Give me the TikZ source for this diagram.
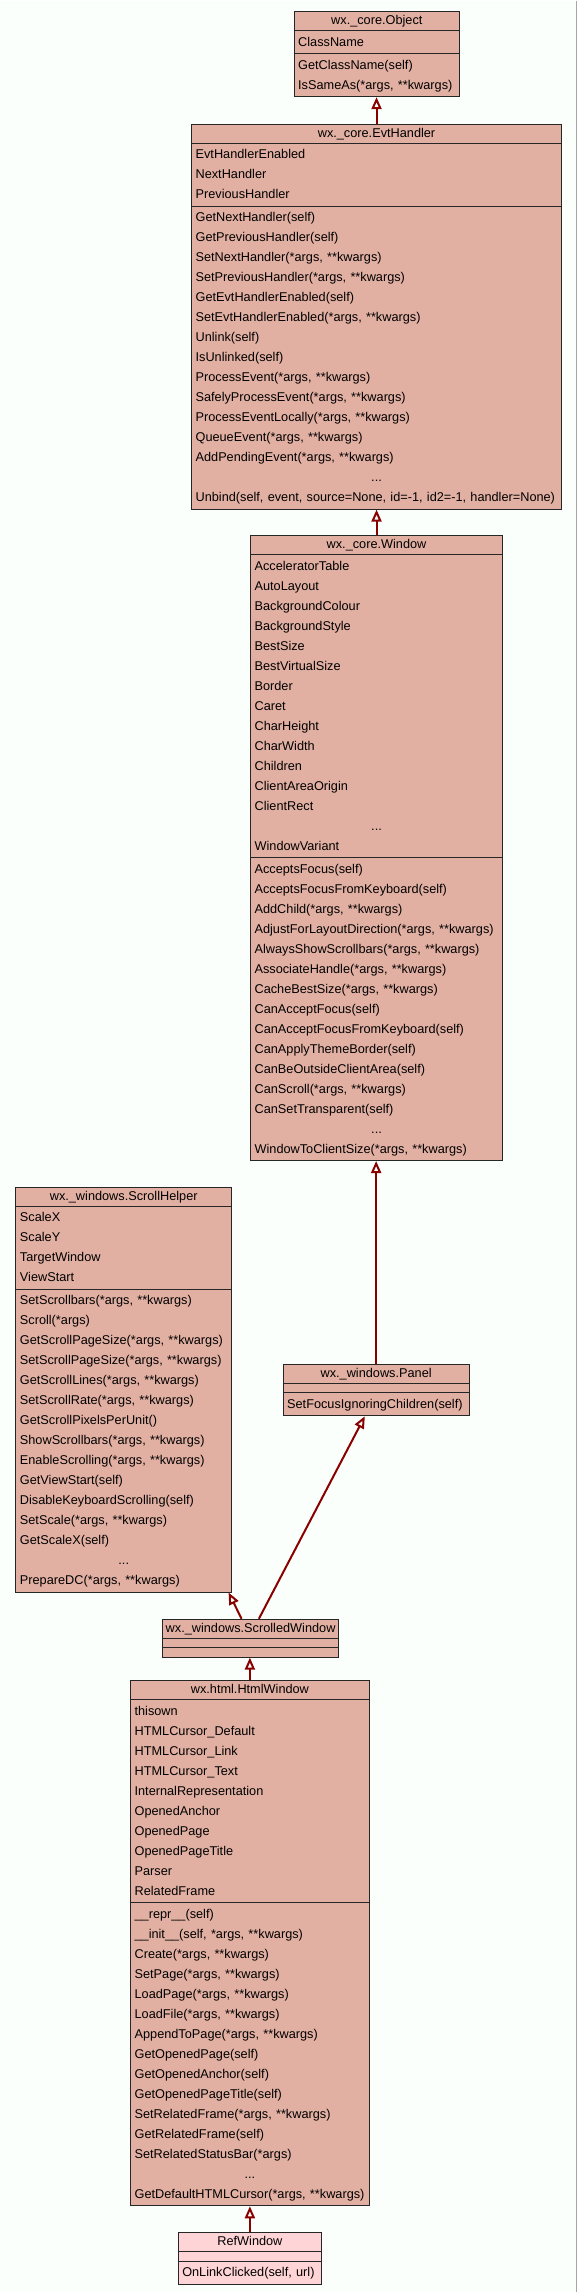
\documentclass[tikz,border=0pt]{standalone}
\usepackage{fontspec}
\setmainfont{Liberation Sans}
\usetikzlibrary{shapes.multipart,arrows.meta}

\definecolor{bgcol}{HTML}{FBFFFB}
\definecolor{clsfill}{HTML}{E2B0A2}
\definecolor{reffill}{HTML}{FFD4D6}
\definecolor{edgecol}{HTML}{880000}

\newcommand{\clshead}[1]{\hbox to\linewidth{\hss\rule[-3.5pt]{0pt}{12pt}#1\hss}}
\newcommand{\ent}[1]{\ifvmode\noindent\fi\hbox{\strut#1}\par}
\newcommand{\gap}{\ifvmode\noindent\fi\hbox to\linewidth{\hss\strut...\hss}\par}
\newcommand{\noent}{\ifvmode\noindent\fi\rule{0pt}{4.8pt}\par}

\tikzset{
  cls/.style={rectangle split, rectangle split parts=3, draw=black!85,
    line width=0.75pt, fill=clsfill, inner xsep=3pt, inner ysep=0.75pt,
    anchor=north, align=left, font=\fontsize{9.55pt}{15pt}\selectfont},
  inh/.style={draw=edgecol, line width=1.5pt,
    -{Triangle[width=7.5pt,length=9pt,fill=bgcol]}}
}

\begin{document}
\begin{tikzpicture}[x=0.75pt,y=-0.75pt]
\fill[bgcol] (0,0) rectangle (577,2292);
\draw[black!35,line width=0.75pt] (576.5,0) -- (576.5,2292);

\node[cls,text width=118pt] (obj) at (377,10.7) {\clshead{wx.\_core.Object}
\nodepart{two}\ent{ClassName}
\nodepart{three}\ent{GetClassName(self)}\ent{IsSameAs(*args, **kwargs)}};

\node[cls,text width=271.5pt] (evt) at (376.7,123.3) {\clshead{wx.\_core.EvtHandler}
\nodepart{two}\ent{EvtHandlerEnabled}\ent{NextHandler}\ent{PreviousHandler}
\nodepart{three}\ent{GetNextHandler(self)}\ent{GetPreviousHandler(self)}%
\ent{SetNextHandler(*args, **kwargs)}\ent{SetPreviousHandler(*args, **kwargs)}%
\ent{GetEvtHandlerEnabled(self)}\ent{SetEvtHandlerEnabled(*args, **kwargs)}%
\ent{Unlink(self)}\ent{IsUnlinked(self)}\ent{ProcessEvent(*args, **kwargs)}%
\ent{SafelyProcessEvent(*args, **kwargs)}\ent{ProcessEventLocally(*args, **kwargs)}%
\ent{QueueEvent(*args, **kwargs)}\ent{AddPendingEvent(*args, **kwargs)}\gap
\ent{Unbind(self, event, source=None, id=-1, id2=-1, handler=None)}};

\node[cls,text width=183pt] (win) at (376.7,535) {\clshead{wx.\_core.Window}
\nodepart{two}\ent{AcceleratorTable}\ent{AutoLayout}\ent{BackgroundColour}%
\ent{BackgroundStyle}\ent{BestSize}\ent{BestVirtualSize}\ent{Border}\ent{Caret}%
\ent{CharHeight}\ent{CharWidth}\ent{Children}\ent{ClientAreaOrigin}\ent{ClientRect}\gap
\ent{WindowVariant}
\nodepart{three}\ent{AcceptsFocus(self)}\ent{AcceptsFocusFromKeyboard(self)}%
\ent{AddChild(*args, **kwargs)}\ent{AdjustForLayoutDirection(*args, **kwargs)}%
\ent{AlwaysShowScrollbars(*args, **kwargs)}\ent{AssociateHandle(*args, **kwargs)}%
\ent{CacheBestSize(*args, **kwargs)}\ent{CanAcceptFocus(self)}%
\ent{CanAcceptFocusFromKeyboard(self)}\ent{CanApplyThemeBorder(self)}%
\ent{CanBeOutsideClientArea(self)}\ent{CanScroll(*args, **kwargs)}%
\ent{CanSetTransparent(self)}\gap\ent{WindowToClientSize(*args, **kwargs)}};

\node[cls,text width=155.8pt] (scroll) at (123.8,1186.7) {\clshead{wx.\_windows.ScrollHelper}
\nodepart{two}\ent{ScaleX}\ent{ScaleY}\ent{TargetWindow}\ent{ViewStart}
\nodepart{three}\ent{SetScrollbars(*args, **kwargs)}\ent{Scroll(*args)}%
\ent{GetScrollPageSize(*args, **kwargs)}\ent{SetScrollPageSize(*args, **kwargs)}%
\ent{GetScrollLines(*args, **kwargs)}\ent{SetScrollRate(*args, **kwargs)}%
\ent{GetScrollPixelsPerUnit()}\ent{ShowScrollbars(*args, **kwargs)}%
\ent{EnableScrolling(*args, **kwargs)}\ent{GetViewStart(self)}%
\ent{DisableKeyboardScrolling(self)}\ent{SetScale(*args, **kwargs)}%
\ent{GetScaleX(self)}\gap\ent{PrepareDC(*args, **kwargs)}};

\node[cls,text width=133.5pt] (panel) at (376.3,1364) {\clshead{wx.\_windows.Panel}
\nodepart{two}\noent
\nodepart{three}\ent{SetFocusIgnoringChildren(self)}};

\node[cls,text width=126.5pt] (swin) at (250.7,1619) {\clshead{wx.\_windows.ScrolledWindow}
\nodepart{two}\noent
\nodepart{three}\noent};

\node[cls,text width=173pt] (html) at (250,1680.7) {\clshead{wx.html.HtmlWindow}
\nodepart{two}\ent{thisown}\ent{HTMLCursor\_Default}\ent{HTMLCursor\_Link}%
\ent{HTMLCursor\_Text}\ent{InternalRepresentation}\ent{OpenedAnchor}%
\ent{OpenedPage}\ent{OpenedPageTitle}\ent{Parser}\ent{RelatedFrame}
\nodepart{three}\ent{\_\_repr\_\_(self)}\ent{\_\_init\_\_(self, *args, **kwargs)}%
\ent{Create(*args, **kwargs)}\ent{SetPage(*args, **kwargs)}%
\ent{LoadPage(*args, **kwargs)}\ent{LoadFile(*args, **kwargs)}%
\ent{AppendToPage(*args, **kwargs)}\ent{GetOpenedPage(self)}%
\ent{GetOpenedAnchor(self)}\ent{GetOpenedPageTitle(self)}%
\ent{SetRelatedFrame(*args, **kwargs)}\ent{GetRelatedFrame(self)}%
\ent{SetRelatedStatusBar(*args)}\gap\ent{GetDefaultHTMLCursor(*args, **kwargs)}};

\node[cls,fill=reffill,text width=101.5pt] (ref) at (250,2232.7) {\clshead{RefWindow}
\nodepart{two}\noent
\nodepart{three}\ent{OnLinkClicked(self, url)}};

% inheritance
\draw[inh] (evt.north) -- (evt.north |- obj.south);
\draw[inh] (win.north) -- (win.north |- evt.south);
\draw[inh] (panel.north) -- (panel.north |- win.south);
\draw[inh] ([xshift=-6.75pt]swin.north) -- ([xshift=-2.6pt]scroll.south east);
\draw[inh] ([xshift=6.2pt]swin.north) -- ([xshift=-8.5pt]panel.south);
\draw[inh] (html.north) -- (html.north |- swin.south);
\draw[inh] (ref.north) -- (ref.north |- html.south);
\end{tikzpicture}
\end{document}
